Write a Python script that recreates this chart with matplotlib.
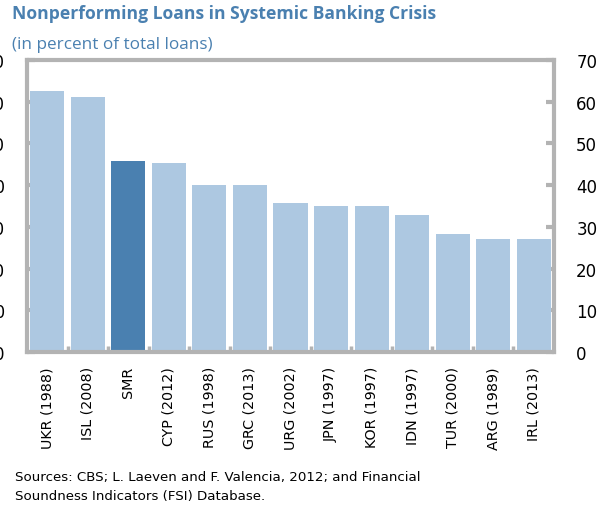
import numpy as np
import matplotlib.pyplot as plt

# data
countries = ["UKR (1988)", "ISL (2008)", "SMR", "CYP (2012)", "RUS (1998)",
             "GRC (2013)", "URG (2002)", "JPN (1997)", "KOR (1997)",
             "IDN (1997)", "TUR (2000)", "ARG (1989)", "IRL (2013)"]
npl = [62.6, 61.2, 45.8, 45.3, 40.0, 40.0, 35.8, 34.9, 34.9, 32.9, 28.2, 27.2, 27.2]
highlight = "SMR"

light = "#adc8e1"
dark = "#4a80b0"
grey = "#b3b3b3"

fig = plt.figure(figsize=(6.08, 5.10), dpi=100)
ax = fig.add_axes([0.0444, 0.3078, 0.8668, 0.5726])

x = np.arange(len(countries))
colors = [dark if c == highlight else light for c in countries]
ax.bar(x, npl, width=0.84, color=colors, zorder=2)

ax.set_xlim(-0.5, len(countries) - 0.5)
ax.set_ylim(0, 70)

for s in ax.spines.values():
    s.set_color(grey)
    s.set_linewidth(3)

ax.set_xticks(x)
ax.set_xticklabels(countries, rotation=90, fontsize=10.3, family="DejaVu Sans")
ax.tick_params(axis="x", length=0, pad=10)
ax.set_xticks(x[:-1] + 0.5, minor=True)
ax.tick_params(axis="x", which="minor", direction="in", length=4, width=2.5, color=grey)

yt = np.arange(0, 80, 10)
ax.set_yticks(yt)
ax.tick_params(axis="y", direction="in", length=6, width=3, color=grey,
               left=True, right=True, labelleft=True, labelright=True,
               labelsize=12, pad=16)

fig.text(0.02, 0.99, "Nonperforming Loans in Systemic Banking Crisis",
         fontsize=12.6, fontweight="bold", color=dark, family="Open Sans",
         va="top")
fig.text(0.02, 0.928, "(in percent of total loans)", fontsize=12.3,
         color=dark, family="Open Sans", va="top")

fig.text(0.024, 0.014, "Sources: CBS; L. Laeven and F. Valencia, 2012; and Financial\n"
         "Soundness Indicators (FSI) Database.", fontsize=9.6,
         family="DejaVu Sans", va="bottom", linespacing=1.55)

fig.savefig("out.png", dpi=100)
